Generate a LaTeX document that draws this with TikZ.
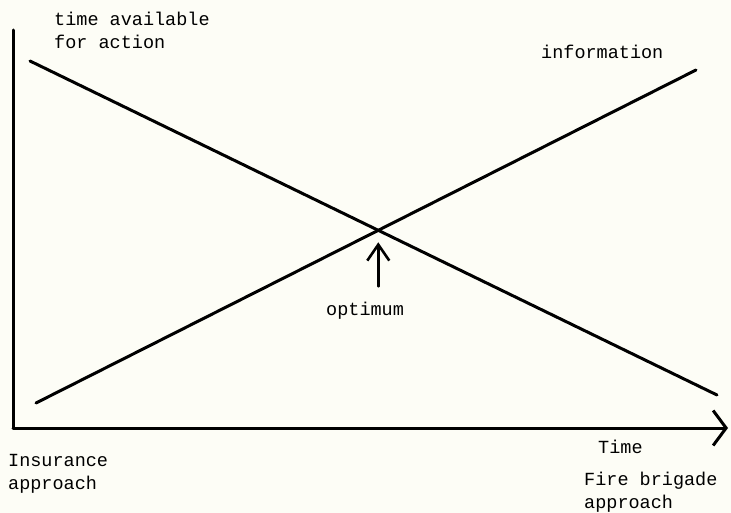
\documentclass[tikz,border=0pt]{standalone}
\usepackage{fontspec}
\setmonofont{Liberation Mono}
\usetikzlibrary{arrows.meta, calc, positioning}
\definecolor{paper}{RGB}{253,253,246}
\tikzstyle{axis} = [line width=3pt, line cap=round]
\tikzstyle{trend} = [line width=3pt, line cap=round]
\tikzstyle{label} = [font=\ttfamily\fontsize{18.5}{23}\selectfont, inner sep=0pt, align=left, anchor=base west]
\tikzstyle{arrow} = [line width=3pt, line cap=round, -{Straight Barb[length=13pt, width=35pt]}]
\tikzstyle{pointer} = [line width=2.6pt, line cap=round, -{Straight Barb[length=16pt, width=22pt]}]

\begin{document}
\begin{tikzpicture}[x=1pt, y=-1pt]
        % Page
        \fill[paper] (0,0) rectangle (731,513);
        \useasboundingbox (0,0) rectangle (731,513);

        % Axes
        \coordinate (origin) at (13,428);
        \coordinate (ytop) at (13,30);
        \coordinate (xend) at (728,428);

        % Trend lines
        \coordinate (tstart) at (30,61);
        \coordinate (tend) at (717,395);
        \coordinate (istart) at (36,403);
        \coordinate (iend) at (696,70);
        \coordinate (cross) at (intersection of tstart--tend and istart--iend);

        % Nodes (base = last line)
        \node (tlabel) [label] at (54,49) {time available\\for action};
        \node (ilabel) [label] at (541,59) {information};
        \node (opt) [label] at (326,315) {optimum};
        \node (timelabel) [label] at (598,453) {Time};
        \node (ins) [label] at (8,489) {Insurance\\approach};
        \node (fire) [label] at (584,508) {Fire brigade\\approach};

        % Lines
        \draw [axis] (ytop) -- (origin);
        \draw [arrow] (origin) -- (xend);
        \draw [trend] (tstart) -- (tend);
        \draw [trend] (istart) -- (iend);
        \draw [pointer] ($(cross |- opt.north)+(0,-15)$) -- ($(cross)+(0,12)$);
    \end{tikzpicture}
\end{document}
